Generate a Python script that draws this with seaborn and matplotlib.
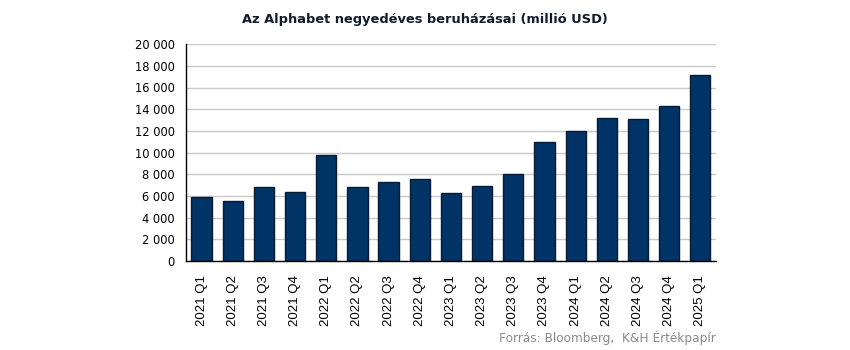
import pandas as pd
import matplotlib.pyplot as plt
import seaborn as sns
from matplotlib.ticker import FuncFormatter, MultipleLocator

# Quarterly capex, million USD
quarters = ['2021 Q1', '2021 Q2', '2021 Q3', '2021 Q4',
            '2022 Q1', '2022 Q2', '2022 Q3', '2022 Q4',
            '2023 Q1', '2023 Q2', '2023 Q3', '2023 Q4',
            '2024 Q1', '2024 Q2', '2024 Q3', '2024 Q4',
            '2025 Q1']
capex = [5942, 5496, 6819, 6383,
         9786, 6828, 7276, 7595,
         6289, 6888, 8055, 11019,
         12012, 13186, 13061, 14276,
         17197]

df = pd.DataFrame({'quarter': quarters, 'capex': capex})

sns.set_theme(style='white')
plt.rcParams['font.family'] = ['DejaVu Sans']

fig = plt.figure(figsize=(8.5, 3.5), dpi=100)
ax = fig.add_axes([0.2188, 0.254, 0.6235, 0.62])

sns.barplot(data=df, x='quarter', y='capex', color='#003366',
            edgecolor='#0a1a33', linewidth=1.0, width=0.65, saturation=1, ax=ax)

ax.set_ylim(0, 20000)
ax.yaxis.set_major_locator(MultipleLocator(2000))
ax.yaxis.set_major_formatter(FuncFormatter(lambda v, p: f'{int(v):,}'.replace(',', ' ')))
ax.set_axisbelow(True)
ax.grid(axis='y', color='#c8c8c8', linewidth=1.0)
ax.set_xlabel('')
ax.set_ylabel('')

for side in ['top', 'right']:
    ax.spines[side].set_visible(False)
for side in ['left', 'bottom']:
    ax.spines[side].set_color('black')
    ax.spines[side].set_linewidth(1.0)

ax.tick_params(axis='y', labelsize=8.3, length=0, pad=8, colors='black')
ax.tick_params(axis='x', labelsize=9, length=0, pad=10, colors='black')
for lbl in ax.get_xticklabels():
    lbl.set_rotation(90)
    lbl.set_family('Liberation Sans')
    lbl.set_fontsize(9.5)

fig.text(0.5, 0.943, 'Az Alphabet negyedéves beruházásai (millió USD)',
         ha='center', va='center', fontsize=9.4, fontweight='bold', color='#0d1b2a')
fig.text(0.842, 0.035, 'Forrás: Bloomberg,  K&H Értékpapír',
         ha='right', va='center', fontsize=8.7, color='#8a8a8a')

fig.savefig('out.png', dpi=100)
